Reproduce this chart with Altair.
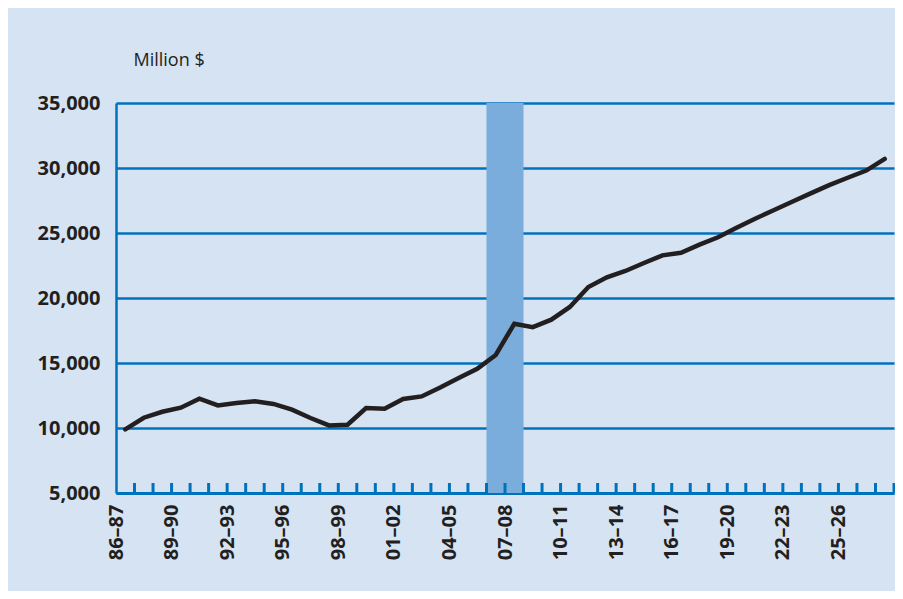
import altair as alt
import pandas as pd

# Fiscal years (86–87 ... 27–28)
years = [f"{(86 + i) % 100:02d}\u2013{(87 + i) % 100:02d}" for i in range(42)]

values = [9900, 10790, 11250, 11560, 12250, 11740, 11920, 12050, 11850, 11410,
          10770, 10200, 10250, 11540, 11480, 12230, 12430, 13120, 13850, 14560,
          15620, 18020, 17760, 18330, 19310, 20840, 21590, 22080, 22690, 23280,
          23480, 24100, 24670, 25400, 26100, 26750, 27400, 28050, 28680, 29250,
          29800, 30700]

shade_start = ["06\u201307"]
shade_end = ["08\u201309"]

df = pd.DataFrame({"year": years, "idx": list(range(len(years))), "value": values})
tick_df = pd.DataFrame({"t": list(range(len(years) + 1))})
shade_df = pd.DataFrame({"start": [years.index(shade_start[0])],
                         "end": [years.index(shade_end[0])]})

BLUE = "#0072bc"
BG = "#d5e3f3"
FONT = "Open Sans"

label_arr = "[" + ",".join(f"'{y}'" for y in years) + "]"

xscale = alt.Scale(domain=[0, len(years)], nice=False, zero=False)
yscale = alt.Scale(domain=[5000, 35000], nice=False, zero=False)

xaxis = alt.Axis(
    values=[i for i in range(0, 40, 3)],
    labelExpr=f"{label_arr}[datum.value]",
    labelAngle=270,
    labelFontSize=20,
    labelFontWeight="bold",
    labelFont=FONT,
    labelColor="#231f20",
    labelPadding=11,
    ticks=False,
    tickSize=0,
    grid=False,
    domain=True,
    domainColor=BLUE,
    domainWidth=3,
    title=None,
)

yaxis = alt.Axis(
    values=[5000, 10000, 15000, 20000, 25000, 30000, 35000],
    format=",d",
    labelFontSize=20,
    labelFontWeight="bold",
    labelFont=FONT,
    labelColor="#231f20",
    labelPadding=16,
    ticks=False,
    tickSize=0,
    grid=True,
    gridColor=BLUE,
    gridWidth=2.5,
    gridOpacity=1,
    domain=True,
    domainColor=BLUE,
    domainWidth=2.5,
    title="Million $",
    titleAngle=0,
    titleAlign="left",
    titleBaseline="alphabetic",
    titleX=17,
    titleY=-38,
    titleFont=FONT,
    titleFontSize=18,
    titleFontWeight="normal",
    titleColor="#231f20",
)

shade = alt.Chart(shade_df).mark_rect(color="#7aaddb", opacity=1).encode(
    x=alt.X("start:Q", scale=xscale, axis=xaxis),
    x2="end:Q",
    y=alt.value(0),
    y2=alt.value(390),
)

grid_base = alt.Chart(df).mark_line(opacity=0).encode(
    x=alt.X("idx:Q", scale=xscale, axis=xaxis),
    y=alt.Y("value:Q", scale=yscale, axis=yaxis),
)

ticks = alt.Chart(tick_df).transform_filter("datum.t > 0").mark_rule(
    color=BLUE, strokeWidth=3
).encode(
    x=alt.X("t:Q", scale=xscale),
    y=alt.value(380),
    y2=alt.value(390),
)

line = alt.Chart(df).transform_calculate(pos="datum.idx + 0.5").mark_line(
    color="#231f20", strokeWidth=4.5, strokeCap="round", strokeJoin="miter"
).encode(
    x=alt.X("pos:Q", scale=xscale),
    y=alt.Y("value:Q", scale=yscale),
)

chart = alt.layer(grid_base, shade, ticks, line).properties(
    width=778,
    height=390,
    background=BG,
    padding={"left": 108, "top": 95, "right": 1, "bottom": 98},
    autosize=alt.AutoSizeParams(type="none"),
).configure_view(stroke=None, fill=None)

chart.save("out.html", embed_options={"renderer": "svg", "actions": False})
